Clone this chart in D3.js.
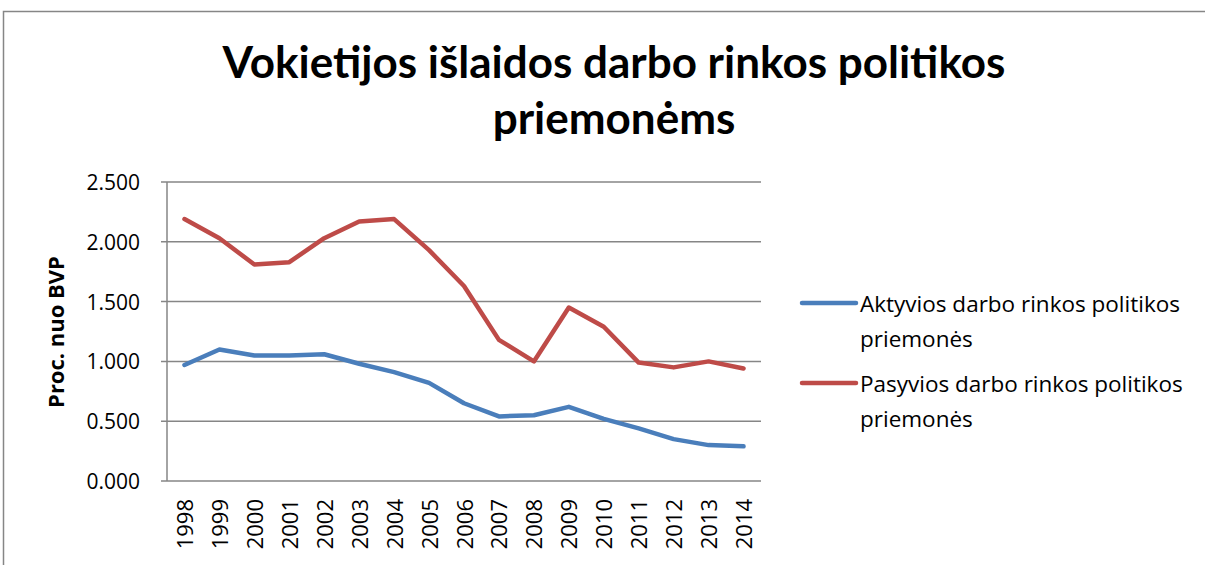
<html>
<head>
<meta charset="utf-8">
<script src="https://d3js.org/d3.v7.min.js"></script>
<style>
body { margin: 0; background: #ffffff; font-family: 'Open Sans', Lato, sans-serif; }
.grid line { stroke: #868686; stroke-width: 1.5; }
.tick-label { font-size: 21px; fill: #000; }
</style>
</head>
<body>
<svg id="chart" width="1205" height="565"></svg>
<script>
var years = ["1998","1999","2000","2001","2002","2003","2004","2005","2006","2007","2008","2009","2010","2011","2012","2013","2014"];
var aktyvios = [0.97, 1.10, 1.05, 1.05, 1.06, 0.98, 0.91, 0.82, 0.65, 0.54, 0.55, 0.62, 0.52, 0.44, 0.35, 0.30, 0.29];
var pasyvios = [2.19, 2.03, 1.81, 1.83, 2.03, 2.17, 2.19, 1.93, 1.63, 1.18, 1.00, 1.45, 1.29, 0.99, 0.95, 1.00, 0.94];
var yTicks = [0, 0.5, 1, 1.5, 2, 2.5];
var seriesNames = ["Aktyvios darbo rinkos politikos", "Pasyvios darbo rinkos politikos"];
var seriesColors = ["#4a7ebb", "#be4b48"];

var svg = d3.select("#chart");

// outer chart border (right/bottom edges run off the picture)
svg.append("rect")
.attr("x", 3.5).attr("y", 11.5)
.attr("width", 1400).attr("height", 700)
.style("fill", "none").style("stroke", "#868686").style("stroke-width", 1.5);

// title
var title = svg.append("text")
.attr("text-anchor", "middle")
.style("font-family", "Lato, sans-serif")
.style("font-size", "44px")
.style("font-weight", "bold");
title.append("tspan").attr("x", 614).attr("y", 78).text("Vokietijos išlaidos darbo rinkos politikos");
title.append("tspan").attr("x", 614).attr("y", 134).text("priemonėms");

var plotL = 167, plotR = 761, plotT = 182, plotB = 481;

var x = d3.scalePoint()
.domain(years)
.range([plotL, plotR])
.padding(0.5);

var y = d3.scaleLinear()
.domain([0, 2.5])
.range([plotB, plotT]);

// gridlines + y ticks
var grid = svg.append("g").attr("class", "grid");
grid.selectAll("line.h")
.data(yTicks)
.enter().append("line")
.attr("x1", plotL - 6).attr("x2", plotR)
.attr("y1", function(d) { return y(d); })
.attr("y2", function(d) { return y(d); });

// y axis line
grid.append("line")
.attr("x1", plotL).attr("x2", plotL)
.attr("y1", plotT).attr("y2", plotB);

svg.selectAll("text.ylab")
.data(yTicks)
.enter().append("text")
.attr("class", "tick-label")
.attr("x", 140)
.attr("y", function(d) { return y(d) + 8; })
.attr("text-anchor", "end")
.text(function(d) { return d.toFixed(3); });

// x labels, rotated
svg.selectAll("text.xlab")
.data(years)
.enter().append("text")
.attr("class", "tick-label")
.style("font-size", "22px")
.attr("text-anchor", "end")
.attr("transform", function(d) { return "translate(" + (x(d) + 8.5) + ",499) rotate(-90)"; })
.text(function(d) { return d; });

// y axis title
svg.append("text")
.attr("text-anchor", "middle")
.attr("transform", "translate(64,332) rotate(-90)")
.style("font-size", "22px")
.style("font-weight", "bold")
.text("Proc. nuo BVP");

// lines
var line = d3.line()
.x(function(d, i) { return x(years[i]); })
.y(function(d) { return y(d); });

[aktyvios, pasyvios].forEach(function(vals, k) {
    svg.append("path")
    .datum(vals)
    .attr("d", line)
    .style("fill", "none")
    .style("stroke", seriesColors[k])
    .style("stroke-width", 4.5)
    .style("stroke-linejoin", "round")
    .style("stroke-linecap", "round");
});

// legend
var legend = svg.selectAll("g.legend")
.data(seriesNames)
.enter().append("g")
.attr("transform", function(d, i) { return "translate(0," + (303 + i * 80) + ")"; });

legend.append("line")
.attr("x1", 802).attr("x2", 856)
.attr("y1", 0).attr("y2", 0)
.style("stroke", function(d, i) { return seriesColors[i]; })
.style("stroke-width", 4.5)
.style("stroke-linecap", "round");

var lt = legend.append("text")
.style("font-size", "22.5px");
lt.append("tspan").attr("x", 860).attr("y", 9).text(function(d) { return d; });
lt.append("tspan").attr("x", 860).attr("y", 44).text("priemonės");
</script>
</body>
</html>
